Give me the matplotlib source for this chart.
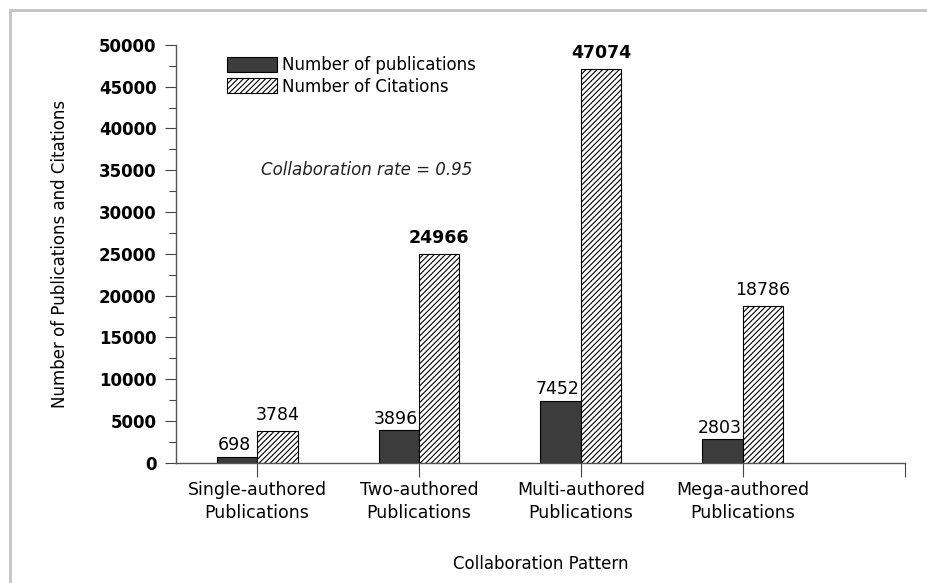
import numpy as np
import matplotlib.pyplot as plt
from matplotlib.patches import Rectangle
from matplotlib.ticker import MultipleLocator

plt.rcParams['font.family'] = ['DejaVu Sans']
plt.rcParams['hatch.linewidth'] = 0.8
plt.rcParams['hatch.color'] = '#333333'

categories = ['Single-authored\nPublications', 'Two-authored\nPublications',
              'Multi-authored\nPublications', 'Mega-authored\nPublications']
publications = [698, 3896, 7452, 2803]
citations = [3784, 24966, 47074, 18786]

fig = plt.figure(figsize=(9.27, 5.83), dpi=100)
ax = fig.add_axes([0.19, 0.206, 0.786, 0.717])

# grey frame around the figure
fig.patches.append(Rectangle((10 / 927, -0.1), 1.2, 1 - 10 / 583 + 0.1, transform=fig.transFigure,
                             fill=False, edgecolor='#c4c4c4', lw=2))

x = np.arange(len(categories))
w = 0.25
b1 = ax.bar(x - w / 2, publications, w, color='#3c3c3c', edgecolor='black', lw=0.8,
            label='Number of publications')
b2 = ax.bar(x + w / 2, citations, w, color='white', edgecolor='black', lw=0.8,
            hatch='//////', label='Number of Citations')

for rect, v in zip(b1, publications):
    ax.annotate(str(v), (rect.get_x() + rect.get_width() / 2, v), xytext=(-2, 2),
                textcoords='offset points', ha='center', va='bottom', fontsize=12.5)
for i, (rect, v) in enumerate(zip(b2, citations)):
    ax.annotate(str(v), (rect.get_x() + rect.get_width() / 2, v), xytext=(0, 5),
                textcoords='offset points', ha='center', va='bottom', fontsize=12.5,
                fontweight='bold' if i in (1, 2) else 'normal')

ax.set_xlim(-0.5, 4.0)
ax.set_ylim(0, 50000)
ax.yaxis.set_major_locator(MultipleLocator(5000))
ax.yaxis.set_minor_locator(MultipleLocator(2500))
ax.set_xticks(list(x) + [4.0])
ax.set_xticklabels(categories + [''], fontsize=12.5, linespacing=1.35)
ax.tick_params(axis='x', length=10, width=0.8, color='#444444', pad=3)
ax.tick_params(axis='y', which='major', length=8, width=0.8, color='#444444', labelsize=12, pad=6)
ax.tick_params(axis='y', which='minor', length=5, width=0.8, color='#444444')
for lab in ax.get_yticklabels():
    lab.set_fontweight('bold')

for s in ['top', 'right']:
    ax.spines[s].set_visible(False)
for s in ['left', 'bottom']:
    ax.spines[s].set_color('#555555')
    ax.spines[s].set_linewidth(1)

ax.set_ylabel('Number of Publications and Citations', fontsize=12, labelpad=22)
ax.set_xlabel('Collaboration Pattern', fontsize=12, labelpad=24)

ax.text(0.117, 0.70, 'Collaboration rate = 0.95', transform=ax.transAxes,
        fontsize=12, style='italic', color='#222222', va='center')

ax.legend(loc='upper left', bbox_to_anchor=(0.07, 0.973), frameon=False, fontsize=12,
          handlelength=3.0, handleheight=1.0, handletextpad=0.3, labelspacing=0.2,
          borderaxespad=0, borderpad=0)

fig.savefig('out.png', dpi=100)
